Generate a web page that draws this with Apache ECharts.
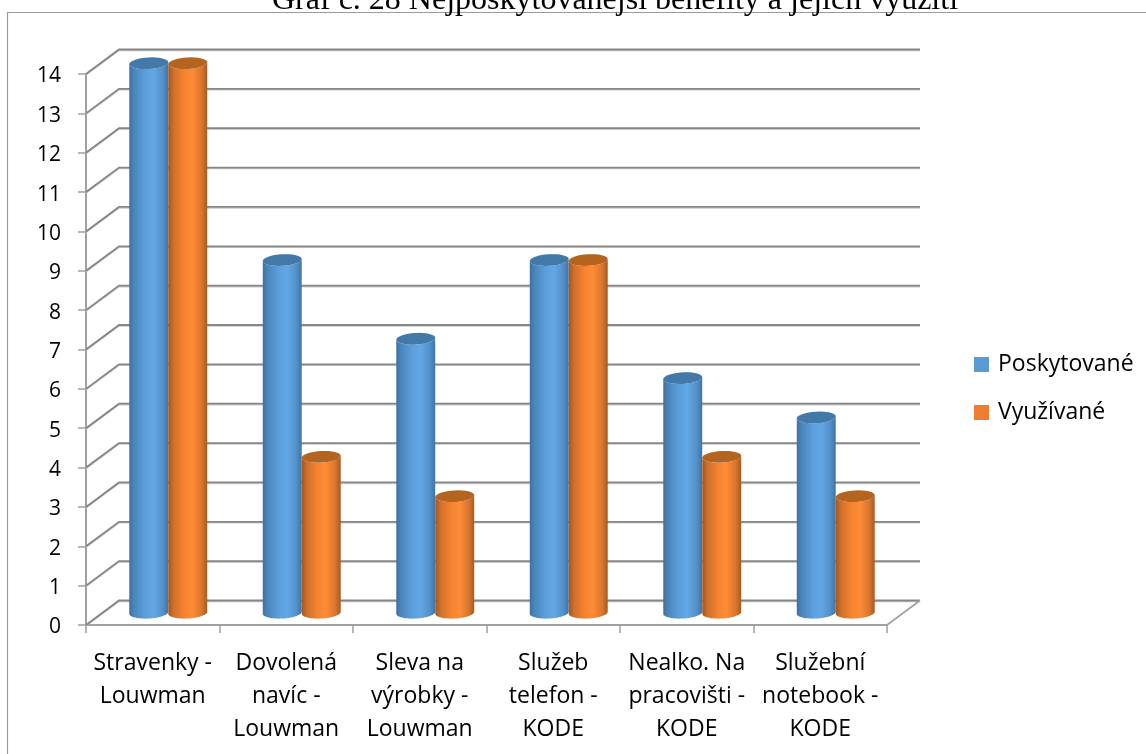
<!DOCTYPE html>
<html>
<head>
<meta charset="utf-8">
<style>html,body{margin:0;padding:0;background:#fff}#c{width:1146px;height:754px}</style>
<script src="https://cdn.jsdelivr.net/npm/echarts@6/dist/echarts.min.js"></script>
</head>
<body>
<div id="c"></div>
<script>
// Benefit counts per employer offering
const categories = [
  'Stravenky -\nLouwman',
  'Dovolená\nnavíc -\nLouwman',
  'Sleva na\nvýrobky -\nLouwman',
  'Služeb\ntelefon -\nKODE',
  'Nealko. Na\npracovišti -\nKODE',
  'Služební\nnotebook -\nKODE'
];
const provided = [14, 9, 7, 9, 6, 5];
const used = [14, 4, 3, 9, 4, 3];
const yTicks = [0,1,2,3,4,5,6,7,8,9,10,11,12,13,14];
const titleText = 'Graf č. 28 Nejposkytovanější benefity a jejich využití';

const FONT = '"Open Sans", sans-serif';
const DEPTH_X = 33, DEPTH_Y = 24.5;   // back wall offset of the pseudo-3D box
const BAR_W = 39, RY = 5.8, TILT = -0.055;

function grad(stops) {
  return new echarts.graphic.LinearGradient(0, 0, 1, 0,
    stops.map(s => ({ offset: s[0], color: s[1] })));
}
const blueBody = [[0,'#3f709f'],[0.12,'#4a85bb'],[0.4,'#5b9edb'],[0.62,'#62a8e6'],[0.86,'#5490c8'],[1,'#3f74a5']];
const orangeBody = [[0,'#a35720'],[0.14,'#d0702c'],[0.4,'#f5832f'],[0.62,'#ff8b36'],[0.86,'#d8762e'],[1,'#a65a22']];

// Points along a slightly tilted ellipse between two angles
function arc(cx, cy, a0, a1) {
  const pts = [];
  for (let i = 0; i <= 32; i++) {
    const a = a0 + (a1 - a0) * i / 32;
    const ex = BAR_W / 2 * Math.cos(a), ey = RY * Math.sin(a);
    pts.push([cx + ex * Math.cos(TILT) - ey * Math.sin(TILT),
              cy + ex * Math.sin(TILT) + ey * Math.cos(TILT)]);
  }
  return pts;
}

// One cylinder: body with a horizontal shading band, darker cap on top
function cylinder(side, body, cap) {
  return function (params, api) {
    const base = api.coord([api.value(0), 0]);
    const top = api.coord([api.value(0), api.value(1)]);
    const cx = base[0] + DEPTH_X / 2 - 1 + side * BAR_W / 2;
    const yb = base[1] - DEPTH_Y / 2, yt = top[1] - DEPTH_Y / 2 + 1.5;
    // front of the base ellipse, then back along the near edge of the cap
    const outline = arc(cx, yb, Math.PI, 0).concat(arc(cx, yt, 0, Math.PI));
    return {
      type: 'group',
      children: [
        { type: 'polygon', shape: { points: outline }, style: { fill: grad(body) } },
        { type: 'polygon', shape: { points: arc(cx, yt, 0, 2 * Math.PI) }, style: { fill: cap } }
      ]
    };
  };
}

// Wall gridlines, side wall, floor edge: all anchored on the value axis scale
function renderWalls(params, api) {
  const v = api.value(0);
  const xs = params.coordSys;
  const y = api.coord([0, v])[1];
  const x0 = xs.x, x1 = xs.x + xs.width;
  const pts = [[x0, y], [x0 + DEPTH_X, y - DEPTH_Y], [x1 + DEPTH_X, y - DEPTH_Y]];
  const kids = [
    { type: 'polyline', shape: { points: pts.map(p => [p[0], p[1] + 1]) }, style: { fill: 'none', stroke: 'rgba(190,190,190,0.8)', lineWidth: 1.5 } },
    { type: 'polyline', shape: { points: pts }, style: { fill: 'none', stroke: '#868686', lineWidth: 1.8 } }
  ];
  if (v === 0) {
    kids.push({ type: 'polyline', shape: { points: [[x1 + DEPTH_X, y - DEPTH_Y], [x1, y]] }, style: { fill: 'none', stroke: '#a0a0a0', lineWidth: 1.6 } });
  }
  return { type: 'group', children: kids };
}

const chart = echarts.init(document.getElementById('c'), null, { renderer: 'canvas' });
chart.setOption({
  animation: false,
  backgroundColor: '#ffffff',
  title: {
    text: titleText, left: 267, top: -20,
    textStyle: { fontFamily: 'Liberation Serif, serif', fontWeight: 'normal', fontSize: 32, color: '#000' }
  },
  legend: {
    orient: 'vertical', left: 969, top: 347.5, itemWidth: 15, itemHeight: 15, itemGap: 24,
    icon: 'rect', data: ['Poskytované', 'Využívané'],
    textStyle: { fontFamily: FONT, fontSize: 23, lineHeight: 24, color: '#000', padding: [0, 0, 0, 4] }
  },
  grid: { left: 86, right: 259, top: 74, height: 551 },
  xAxis: {
    type: 'category', data: categories,
    axisLine: { lineStyle: { color: '#a0a0a0', width: 2 } },
    axisTick: { show: true, length: 8, lineStyle: { color: '#a0a0a0', width: 1.5 } },
    axisLabel: { fontFamily: FONT, fontSize: 23, color: '#000', lineHeight: 33, margin: 22, interval: 0 },
    splitLine: { show: false }
  },
  yAxis: {
    type: 'value', min: 0, max: 14, interval: 1,
    axisLine: { show: true, lineStyle: { color: '#a0a0a0', width: 2 } },
    axisTick: { show: true, length: 8, lineStyle: { color: '#a0a0a0', width: 1.5 } },
    axisLabel: { fontFamily: FONT, fontSize: 21, color: '#000', margin: 25, verticalAlign: 'top', lineHeight: 5 },
    splitLine: { show: false }
  },
  graphic: [{
    type: 'rect', silent: true, z: -1,
    shape: { x: 7.5, y: 12.5, width: 1400, height: 1000 },
    style: { fill: 'none', stroke: '#9a9a9a', lineWidth: 1.2 }
  }],
  series: [
    { type: 'custom', name: 'walls', renderItem: renderWalls, data: yTicks.map(v => [v]), encode: { y: 0 }, silent: true, z: 1 },
    { type: 'custom', name: 'Poskytované', renderItem: cylinder(-1, blueBody, '#4279a8'),
      data: provided.map((v, i) => [i, v]), encode: { x: 0, y: 1 }, itemStyle: { color: '#5b9bd5' }, z: 2 },
    { type: 'custom', name: 'Využívané', renderItem: cylinder(1, orangeBody, '#b5641f'),
      data: used.map((v, i) => [i, v]), encode: { x: 0, y: 1 }, itemStyle: { color: '#ed7d31' }, z: 3 }
  ]
});
</script>
</body>
</html>
